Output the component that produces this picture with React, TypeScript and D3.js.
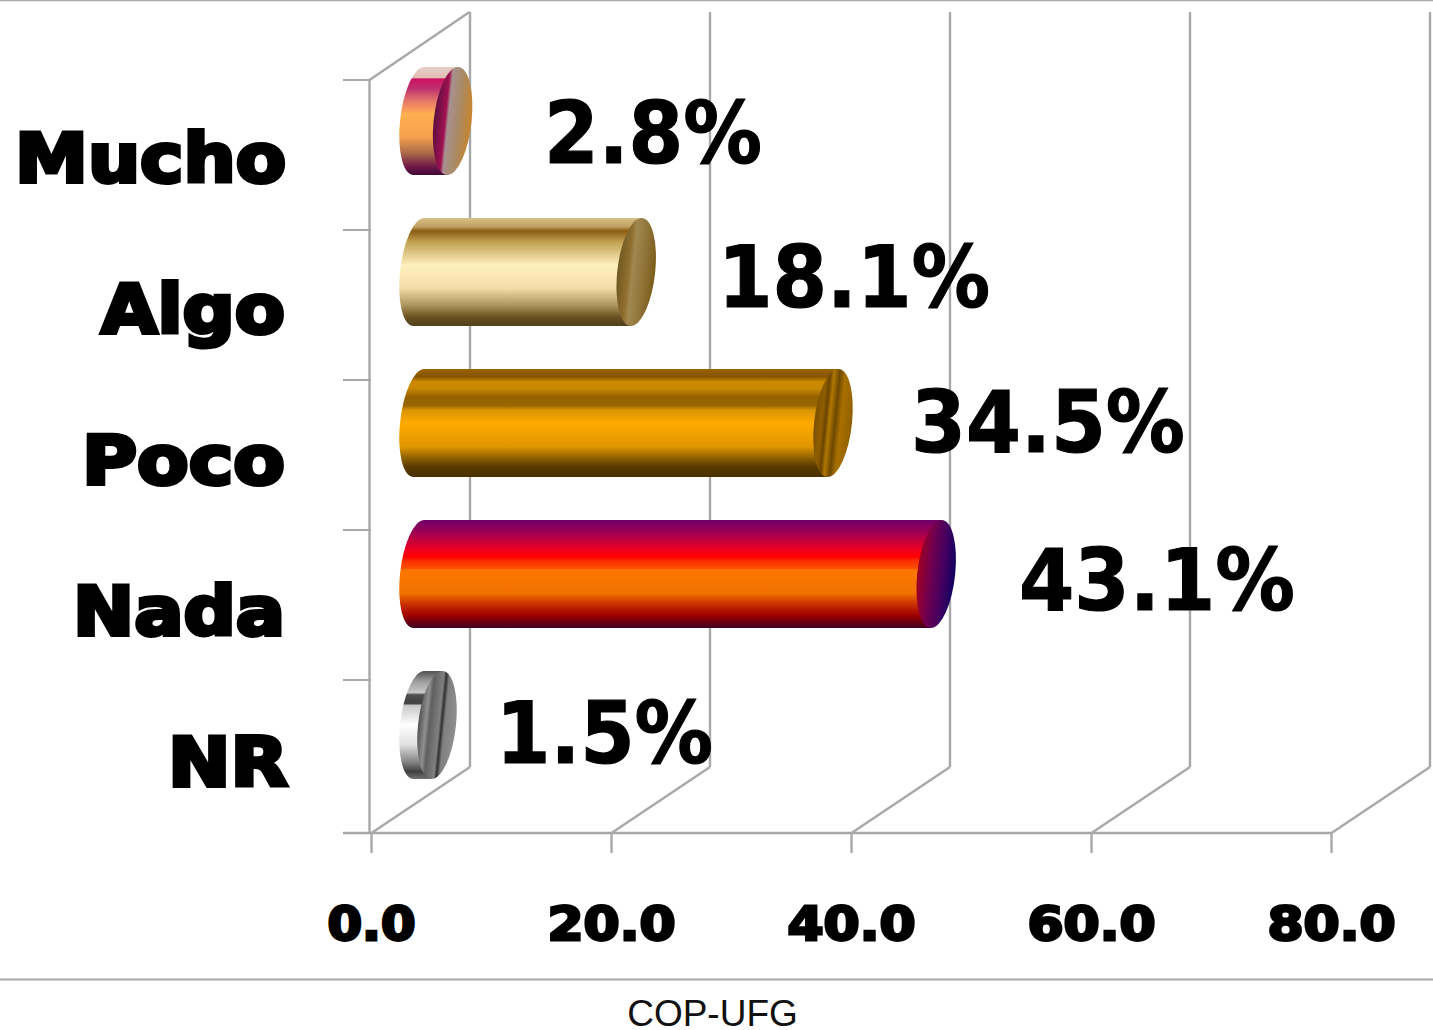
import React from "react";
import * as d3 from "d3";

const categories = ["Mucho", "Algo", "Poco", "Nada", "NR"];
const values = [2.8, 18.1, 34.5, 43.1, 1.5];
const valueLabels = ["2.8%", "18.1%", "34.5%", "43.1%", "1.5%"];
const xTicks = [0, 20, 40, 60, 80];
const xTickLabels = ["0.0", "20.0", "40.0", "60.0", "80.0"];
const footer = "COP-UFG";

const bodyStops: [number, string][][] = [
  [[0, "#e6cfc6"], [0.1, "#e2bdb4"], [0.11, "#cc1060"], [0.2, "#c03070"], [0.32, "#e87a68"], [0.42, "#ffa455"], [0.43, "#ffb050"], [0.65, "#f5a04c"], [0.8, "#a86848"], [0.92, "#701848"], [1, "#400838"]],
  [[0, "#d8c088"], [0.08, "#c0a060"], [0.12, "#8a5c14"], [0.22, "#c0a050"], [0.33, "#e0c888"], [0.44, "#fff0c0"], [0.65, "#f5dca8"], [0.8, "#b09860"], [0.92, "#6a5020"], [1, "#50401c"]],
  [[0, "#9a6400"], [0.07, "#875400"], [0.12, "#cc8c00"], [0.18, "#c88800"], [0.26, "#946000"], [0.34, "#9a6600"], [0.38, "#d89400"], [0.5, "#ffaa00"], [0.72, "#e09600"], [0.8, "#a06c00"], [0.9, "#5a3c00"], [1, "#4a3000"]],
  [[0, "#6e0068"], [0.12, "#a00050"], [0.28, "#f00020"], [0.34, "#ff0000"], [0.38, "#f83000"], [0.45, "#ff5000"], [0.46, "#ff7800"], [0.68, "#f07000"], [0.78, "#c83000"], [0.88, "#a00000"], [1, "#400020"]],
  [[0, "#505050"], [0.1, "#a0a0a0"], [0.2, "#c8c8c8"], [0.22, "#505050"], [0.3, "#404040"], [0.32, "#c8c8c8"], [0.5, "#ffffff"], [0.68, "#e0e0e0"], [0.85, "#808080"], [0.93, "#404040"], [1, "#707070"]],
];
const capStops: [number, string][][] = [
  [[0, "#5a1040"], [0.3, "#a01050"], [0.38, "#a89090"], [0.65, "#a88a68"], [1, "#c88428"]],
  [[0, "#705820"], [0.3, "#907030"], [0.4, "#a08850"], [0.7, "#907438"], [1, "#7a5c18"]],
  [[0, "#7a5000"], [0.2, "#905e00"], [0.3, "#6a4400"], [0.4, "#b07800"], [0.55, "#6e4800"], [0.7, "#a87000"], [1, "#906000"]],
  [[0, "#a00020"], [0.35, "#700050"], [0.7, "#400060"], [1, "#100060"]],
  [[0, "#505050"], [0.2, "#909090"], [0.3, "#606060"], [0.55, "#808080"], [0.62, "#303030"], [0.7, "#808080"], [1, "#909090"]],
];

const W = 1433, H = 1030;
const x = d3.scaleLinear().domain([0, 80]).range([371.5, 1331.5]);
const yTicks = d3.scalePoint().domain(categories).range([80, 680]);
const yBars = d3.scalePoint().domain(categories).range([121, 725]);
const floorY = 833;
const gray = "#a8a8a8";
const lw = 2.4;
const depthX = 98.5, depthY = -66;
const bar0 = 419, ry = 54, rx = 19, skew = -5.7;
const heavy = "'DejaVu Sans', Verdana, sans-serif";

const labelX = [544, 718, 911, 1019, 496];
const labelBase = [163, 307, 452, 610, 763];
const labelW = [218, 272, 274, 276, 217];
const catRight = [286, 285, 285, 285, 288];
const catBase = [182, 333, 484, 635, 786];
const catW = [271, 184, 203, 212, 120];
const tickW = [88, 128, 128, 128, 128];

export default function App() {
  const wallY = floorY + depthY;
  return (
    <svg width={W} height={H} viewBox={`0 0 ${W} ${H}`} style={{ position: "fixed", left: 0, top: 0, background: "#fff" }}>
      <defs>
        {categories.map((c, i) => (
          <React.Fragment key={c}>
            <linearGradient id={`body${i}`} x1="0" y1="0" x2="0" y2="1">
              {bodyStops[i].map(([o, col], j) => <stop key={j} offset={o} stopColor={col} />)}
            </linearGradient>
            <linearGradient id={`cap${i}`} x1="0" y1="0" x2="1" y2="0">
              {capStops[i].map(([o, col], j) => <stop key={j} offset={o} stopColor={col} />)}
            </linearGradient>
          </React.Fragment>
        ))}
      </defs>
      <line x1={0} x2={W} y1={0.5} y2={0.5} stroke={gray} strokeWidth={1.5} />
      <line x1={0} x2={W} y1={979.5} y2={979.5} stroke={gray} strokeWidth={2} />
      {/* wall */}
      <line x1={369.5} x2={369.5} y1={80} y2={floorY} stroke={gray} strokeWidth={lw} />
      <line x1={369.5} x2={469.5} y1={80} y2={12} stroke={gray} strokeWidth={lw} />
      <line x1={343} x2={x(80)} y1={floorY} y2={floorY} stroke={gray} strokeWidth={lw} />
      {categories.map(c => (
        <line key={c} x1={343} x2={371} y1={yTicks(c)} y2={yTicks(c)} stroke={gray} strokeWidth={2} />
      ))}
      {xTicks.map(t => (
        <g key={t}>
          <line x1={x(t)} x2={x(t)} y1={floorY} y2={853} stroke={gray} strokeWidth={lw} />
          <line x1={x(t)} x2={x(t) + depthX} y1={floorY} y2={wallY} stroke={gray} strokeWidth={lw} />
          <line x1={x(t) + depthX} x2={x(t) + depthX} y1={wallY} y2={12} stroke={gray} strokeWidth={lw} />
        </g>
      ))}
      {/* bars */}
      {categories.map((c, i) => {
        const cy = yBars(c)!;
        const xe = bar0 + (x(values[i]) - x(0));
        const body = `M${xe},${-ry}L${bar0},${-ry}A${rx},${ry} 0 0 0 ${bar0},${ry}L${xe},${ry}Z`;
        return (
          <g key={c} transform={`translate(0,${cy}) skewX(${skew})`}>
            <path d={body} fill={`url(#body${i})`} />
            <ellipse cx={xe} cy={0} rx={rx} ry={ry} fill={`url(#cap${i})`} />
          </g>
        );
      })}
      {/* value labels */}
      {categories.map((c, i) => (
        <text key={c} x={labelX[i]} y={labelBase[i]} fontFamily={heavy} fontWeight="bold" fontSize={86}
          textLength={labelW[i]} lengthAdjust="spacingAndGlyphs" fill="#000" stroke="#000" strokeWidth={1.2}>{valueLabels[i]}</text>
      ))}
      {/* category labels */}
      {categories.map((c, i) => (
        <text key={c} x={catRight[i] - catW[i]} y={catBase[i]} fontFamily={heavy} fontWeight="bold" fontSize={67}
          textLength={catW[i]} lengthAdjust="spacingAndGlyphs" fill="#000" stroke="#000" strokeWidth={4}>{c}</text>
      ))}
      {/* axis labels */}
      {xTicks.map((t, i) => (
        <text key={t} x={x(t) - tickW[i] / 2} y={939.5} fontFamily={heavy} fontWeight="bold" fontSize={46}
          textLength={tickW[i]} lengthAdjust="spacingAndGlyphs" fill="#000" stroke="#000" strokeWidth={2.8}>{xTickLabels[i]}</text>
      ))}
      <text x={712.5} y={1026} textAnchor="middle" fontFamily="'Liberation Sans', Arial, sans-serif" fontSize={37} fill="#111">{footer}</text>
    </svg>
  );
}
